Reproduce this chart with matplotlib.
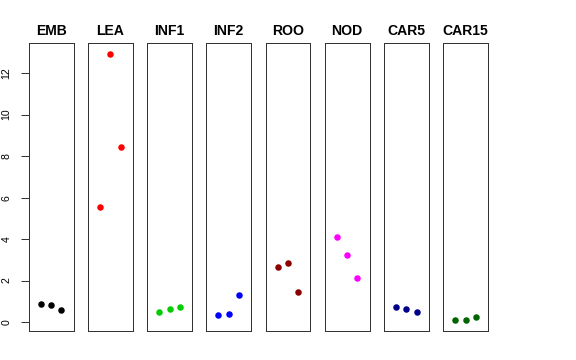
import numpy as np
import matplotlib
matplotlib.use("Agg")
import matplotlib.pyplot as plt

plt.rcParams['font.family'] = ['Liberation Sans', 'DejaVu Sans']

# Datos
grupos = ["EMB", "LEA", "INF1", "INF2", "ROO", "NOD", "CAR5", "CAR15"]
colores = ["#000000", "#FF0000", "#00CD00", "#0000FF", "#8B0000", "#FF00FF", "#00008B", "#006400"]
emb = [0.87, 0.84, 0.57]
lea = [5.53, 12.94, 8.46]
inf1 = [0.50, 0.65, 0.74]
inf2 = [0.36, 0.37, 1.31]
roo = [2.67, 2.85, 1.46]
nod = [4.08, 3.22, 2.12]
car5 = [0.70, 0.65, 0.47]
car15 = [0.08, 0.11, 0.23]
valores = [emb, lea, inf1, inf2, roo, nod, car5, car15]

W, H = 576, 360
fig = plt.figure(figsize=(W / 72, H / 72), dpi=72)

todos = np.concatenate(valores)
rango = todos.max() - todos.min()
ylim = (todos.min() - 0.04 * rango, todos.max() + 0.04 * rango)

for i, (g, c, v) in enumerate(zip(grupos, colores, valores)):
    left = 28.7 + 59.2 * i
    ax = fig.add_axes([left / W, (H - 331) / H, 44.8 / W, 288 / H])
    x = np.arange(1, len(v) + 1)
    ax.plot(x, v, 'o', color=c, markersize=6.5, markeredgewidth=0)
    ax.set_xlim(-0.16, 4.16)
    ax.set_ylim(*ylim)
    ax.set_xticks([])
    for s in ax.spines.values():
        s.set_linewidth(1)
        s.set_color('#333333')
    ax.set_title(g, fontsize=14, fontweight='bold', pad=8)
    if i == 0:
        ax.set_yticks(np.arange(0, 13, 2))
        ax.tick_params(axis='y', length=8, width=0.8, labelsize=10.5, pad=9)
        for t in ax.get_yticklabels():
            t.set_rotation(90)
            t.set_va('center')
    else:
        ax.set_yticks([])

fig.savefig("out.png", dpi=72)
